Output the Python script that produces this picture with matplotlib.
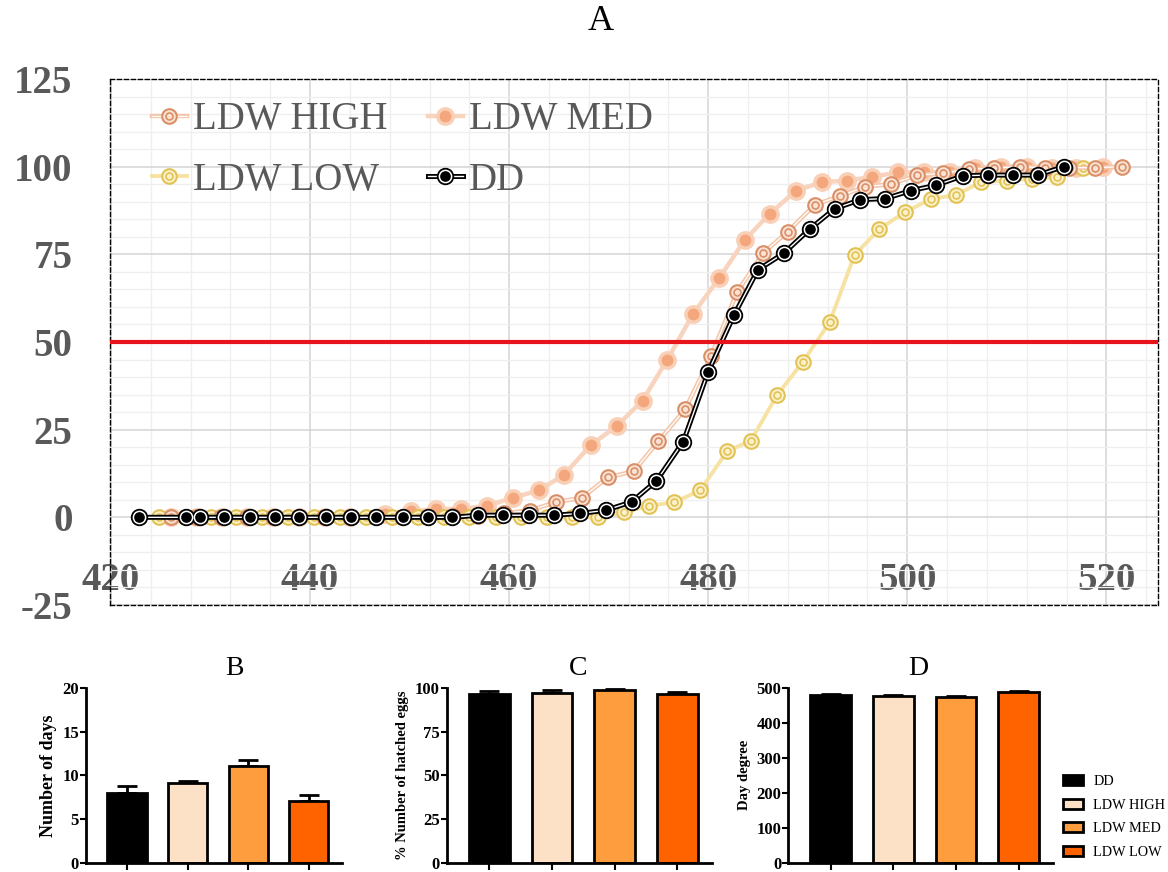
import matplotlib.pyplot as plt
from matplotlib.lines import Line2D
from matplotlib.patches import Patch
from matplotlib.legend_handler import HandlerTuple
from matplotlib.ticker import MultipleLocator

plt.rcParams['font.family'] = ['Liberation Serif', 'DejaVu Serif']
plt.rcParams['axes.unicode_minus'] = False

# cumulative hatching (%) vs day degrees
dd_x = [422.8, 427.5, 428.9, 431.4, 434.0, 436.5, 438.9, 441.6, 444.1, 446.6,
        449.3, 451.8, 454.3, 456.9, 459.4, 462.0, 464.5, 467.1, 469.7, 472.3,
        474.8, 477.5, 480.0, 482.6, 485.0, 487.6, 490.2, 492.7, 495.3, 497.8,
        500.4, 502.9, 505.6, 508.1, 510.6, 513.1, 515.7]
dd_y = [0, 0, 0, 0, 0, 0, 0, 0, 0, 0,
        0, 0, 0, 0.6, 0.6, 0.6, 0.6, 1.1, 2.0, 4.4,
        10.4, 21.6, 41.5, 57.7, 70.6, 75.3, 82.2, 88.0, 90.6, 90.9,
        93.2, 94.7, 97.4, 97.6, 97.6, 97.6, 100]

high_x = [426.0, 428.5, 431.1, 433.7, 436.3, 438.9, 441.4, 444.0, 446.6, 449.2,
          451.8, 454.4, 456.9, 459.5, 462.1, 464.7, 467.3, 469.9, 472.5, 475.0,
          477.7, 480.3, 482.9, 485.5, 488.0, 490.7, 493.2, 495.8, 498.4, 501.0,
          503.6, 506.2, 508.7, 511.3, 513.8, 516.3, 518.9, 521.6]
high_y = [0, 0, 0, 0, 0, 0, 0, 0, 0, 0,
          0, 0.3, 0.5, 1.2, 1.9, 4.4, 5.5, 11.4, 13.1, 21.7,
          30.9, 46.1, 64.2, 75.3, 81.5, 89.1, 91.6, 94.3, 95.0, 97.6,
          98.1, 99.3, 99.6, 100, 99.7, 99.7, 99.7, 100]

med_x = [426.0, 428.6, 431.2, 433.7, 436.3, 438.9, 441.5, 444.0, 447.5, 450.1,
         452.7, 455.2, 457.8, 460.4, 463.0, 465.5, 468.2, 470.8, 473.4, 475.9,
         478.5, 481.1, 483.7, 486.2, 488.8, 491.4, 493.9, 496.5, 499.1, 501.7,
         504.3, 506.8, 509.4, 512.0, 514.5, 517.0, 519.7]
med_y = [0, 0, 0, 0, 0, 0, 0, 0, 1.0, 1.7,
         2.4, 2.4, 3.3, 5.6, 7.7, 12.1, 20.6, 26.0, 33.3, 45.0,
         58.1, 68.2, 79.2, 86.6, 93.1, 95.6, 96.0, 97.1, 98.4, 98.4,
         98.4, 99.6, 100, 100, 99.7, 99.7, 100]

low_x = [424.8, 427.4, 430.0, 432.6, 435.2, 437.8, 440.4, 443.0, 445.6, 448.2,
         450.8, 453.5, 456.0, 458.7, 461.2, 463.8, 466.3, 468.9, 471.5, 474.1,
         476.6, 479.2, 481.9, 484.3, 486.9, 489.5, 492.2, 494.7, 497.2, 499.8,
         502.4, 504.9, 507.4, 510.0, 512.5, 515.0, 517.7]
low_y = [0, 0, 0, 0, 0, 0, 0, 0, 0, 0,
         0, 0, 0, 0, 0, 0, 0, 0, 1.4, 3.3,
         4.3, 7.7, 18.8, 21.9, 34.8, 44.3, 55.6, 74.8, 82.2, 87.1,
         90.8, 91.9, 95.6, 96.0, 96.6, 97.0, 99.7]

# bar panels
groups = ['DD', 'LDW HIGH', 'LDW MED', 'LDW LOW']
bar_colors = ['#000000', '#fde1c6', '#fd9d3e', '#ff6300']
days = [8.0, 9.1, 11.1, 7.1]
days_err = [0.8, 0.2, 0.7, 0.7]
hatched = [96.5, 97.3, 98.9, 96.3]
hatched_err = [2.0, 1.8, 0.5, 1.2]
degree = [480, 478, 473, 488]
degree_err = [3, 3, 4, 3]

gray = '#595959'

fig = plt.figure(figsize=(11.68, 8.72), dpi=100)
ax = fig.add_axes([0.0942, 0.3062, 0.8973, 0.6032])


def series(x, y, line, mk, z):
    out = []
    for kw in line:
        out += ax.plot(x, y, zorder=z, solid_capstyle='round', **kw)
    for kw in mk:
        out += ax.plot(x, y, ls='none', zorder=z + 0.5, **kw)
    return out


med_line = [dict(color='#f8d4be', lw=3.2)]
med_mk = [dict(marker='o', ms=11, mfc='#f4a67c', mec='#f9cfb6', mew=2.5)]
low_line = [dict(color='#f6e3a3', lw=2.8)]
low_mk = [dict(marker='o', ms=10.5, mfc='#fbf2cc', mec='#e2c255', mew=1.5),
          dict(marker='o', ms=5, mfc='none', mec='#e2c255', mew=1.2)]
high_line = [dict(color='#f4c6aa', lw=3.2), dict(color='white', lw=0.9)]
high_mk = [dict(marker='o', ms=10.5, mfc='#fbe3d4', mec='#d98f68', mew=1.5),
           dict(marker='o', ms=5, mfc='none', mec='#d98f68', mew=1.2)]
dd_line = [dict(color='black', lw=3.6), dict(color='white', lw=1.0)]
dd_mk = [dict(marker='o', ms=11.5, mfc='black', mec='black', mew=1),
         dict(marker='o', ms=8.8, mfc='black', mec='white', mew=1.1)]

series(med_x, med_y, med_line, med_mk, 2)
series(low_x, low_y, low_line, low_mk, 3)
series(high_x, high_y, high_line, high_mk, 4)
series(dd_x, dd_y, dd_line, dd_mk, 5)

ax.axhline(50, color='#e8141c', lw=3, zorder=6)

ax.set_xlim(419.9, 525.2)
ax.set_ylim(-25, 125)
ax.xaxis.set_major_locator(MultipleLocator(20))
ax.xaxis.set_minor_locator(MultipleLocator(4))
ax.yaxis.set_major_locator(MultipleLocator(25))
ax.yaxis.set_minor_locator(MultipleLocator(5))
ax.grid(which='major', color='#d4d4d4', lw=1.1, zorder=0)
ax.grid(which='minor', color='#efefef', lw=0.9, zorder=0)
ax.set_axisbelow(True)
ax.tick_params(which='both', length=0)
ax.tick_params(axis='x', pad=-31, labelsize=28, labelcolor=gray)
ax.tick_params(axis='y', pad=27, labelsize=28, labelcolor=gray)
for t in ax.get_xticklabels() + ax.get_yticklabels():
    t.set_fontweight('bold')
for s in ax.spines.values():
    s.set_linestyle((0, (3, 2)))
    s.set_linewidth(1)

def handle(line, mk):
    hs = [Line2D([], [], **kw) for kw in line]
    hs += [Line2D([], [], ls='none', **kw) for kw in mk]
    return tuple(hs)

handles = [handle(high_line, high_mk), handle(low_line, low_mk),
           handle(med_line, med_mk), handle(dd_line, dd_mk)]
labels = ['LDW HIGH', 'LDW LOW', 'LDW MED', 'DD']
leg = ax.legend(handles, labels, ncol=2, loc='upper left', bbox_to_anchor=(0.025, 0.987),
                borderaxespad=0, borderpad=0.4,
                frameon=False, fontsize=28, handlelength=0.9, handletextpad=0.15,
                columnspacing=1.05, labelspacing=0.6,
                handler_map={tuple: HandlerTuple(ndivide=1, pad=0)})
for t in leg.get_texts():
    t.set_color(gray)

fig.text(0.514, 0.975, 'A', fontsize=26, ha='center', va='center')

# bottom panels
panels = [
    ([0.0736, 0.0107, 0.2192, 0.2003], days, days_err, 20, 5, 'Number of days', 13, 'B', 0.201),
    ([0.3824, 0.0107, 0.2269, 0.2003], hatched, hatched_err, 100, 25, '% Number of hatched eggs', 10.5, 'C', 0.495),
    ([0.6749, 0.0107, 0.2266, 0.2003], degree, degree_err, 500, 100, 'Day degree', 10.5, 'D', 0.786),
]
pos = list(range(len(groups)))
for rect, vals, errs, top, step, ylab, ylsize, letter, tx in panels:
    b = fig.add_axes(rect)
    b.bar(pos, vals, width=0.65, color=bar_colors, edgecolor='black', lw=2, zorder=2)
    b.errorbar(pos, vals, yerr=[[0] * len(errs), errs], fmt='none', ecolor='black',
               elinewidth=2, capsize=7, capthick=2, zorder=1)
    b.set_xlim(-0.68, 3.55)
    b.set_ylim(0, top)
    b.yaxis.set_major_locator(MultipleLocator(step))
    b.set_xticks(pos)
    b.set_xticklabels([])
    b.tick_params(axis='x', length=5, width=1.5)
    b.tick_params(axis='y', length=4, width=1.5, labelsize=12, pad=1)
    for t in b.get_yticklabels():
        t.set_fontweight('bold')
    for s in ['top', 'right']:
        b.spines[s].set_visible(False)
    for s in ['left', 'bottom']:
        b.spines[s].set_linewidth(2)
    b.set_ylabel(ylab, fontsize=ylsize, fontweight='bold', labelpad=4)
    fig.text(tx, 0.233, letter, fontsize=20, ha='center', va='center')

fig.legend([Patch(facecolor=c, edgecolor='black', lw=2) for c in bar_colors], groups,
           loc='center left', bbox_to_anchor=(0.908, 0.063), frameon=False, fontsize=10.3,
           handlelength=1.4, handleheight=0.7, labelspacing=0.75, handletextpad=0.7,
           borderaxespad=0, borderpad=0.2)

fig.savefig('out.png', dpi=100)
